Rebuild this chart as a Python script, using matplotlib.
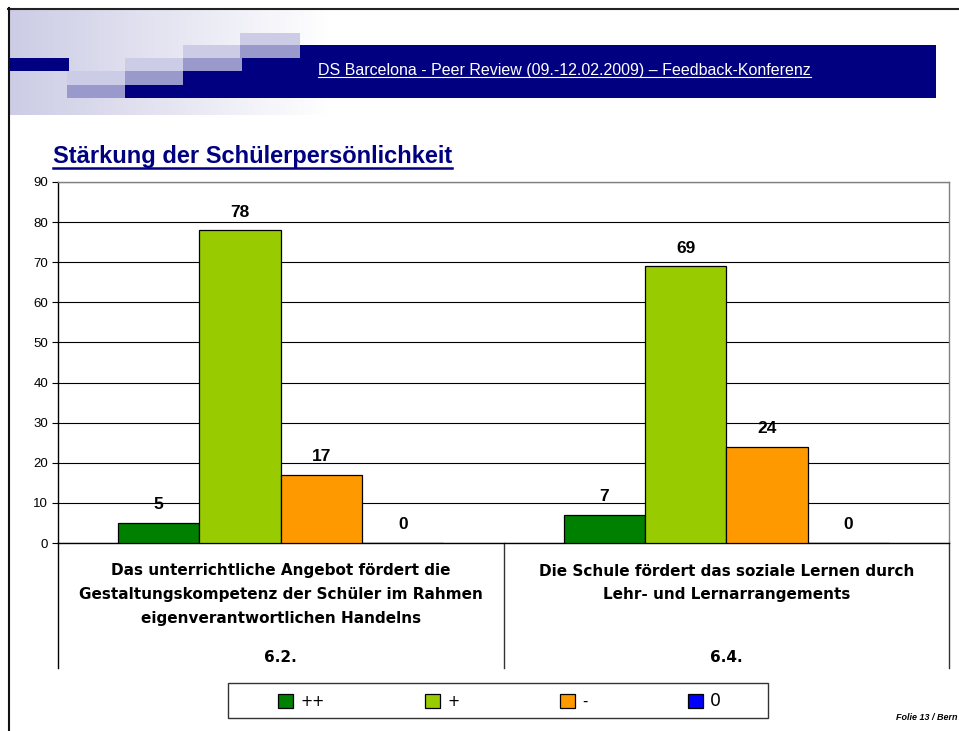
import matplotlib
matplotlib.use("Agg")
import matplotlib.pyplot as plt
import numpy as np
from matplotlib.patches import Rectangle

# ---------------- data ----------------
categories = [
    "Das unterrichtliche Angebot fördert die\nGestaltungskompetenz der Schüler im Rahmen\neigenverantwortlichen Handelns",
    "Die Schule fördert das soziale Lernen durch\nLehr- und Lernarrangements",
]
codes = ["6.2.", "6.4."]
series_names = ["++", "+", "-", "0"]
values_pp = [5, 7]
values_p = [78, 69]
values_m = [17, 24]
values_0 = [0, 0]
series_values = [values_pp, values_p, values_m, values_0]
colors = ["#008000", "#99CC00", "#FF9900", "#0000FF"]
yticks = [0, 10, 20, 30, 40, 50, 60, 70, 80, 90]
header_text = "DS Barcelona - Peer Review (09.-12.02.2009) \u2013 Feedback-Konferenz"
title_text = "Stärkung der Schülerpersönlichkeit"
footer_text = "Folie 13 / Bern"

plt.rcParams["font.family"] = ["Liberation Sans", "DejaVu Sans"]

W, H = 959, 731
fig = plt.figure(figsize=(W / 100, H / 100), dpi=100)
bg = fig.add_axes([0, 0, 1, 1])
bg.axis("off")

# header gradient
grad = np.linspace(0, 1, 256)
c0 = np.array([0.80, 0.80, 0.90])
c1 = np.array([1.0, 1.0, 1.0])
img = c0[None, None, :] * (1 - grad[None, :, None]) + c1[None, None, :] * grad[None, :, None]
bg.imshow(img, extent=(10, 330, 115, 10), aspect="auto", interpolation="bilinear", zorder=0)
bg.set_xlim(0, W)
bg.set_ylim(H, 0)

navy = "#000080"
light = "#CCCCE6"
med = "#9999CC"
rects = [
    (300, 45, 936, 98, navy), (242, 58, 300, 98, navy), (183, 71, 242, 98, navy),
    (125, 85, 183, 98, navy), (10, 58, 69, 71, navy),
    (240, 33, 300, 45, light), (183, 45, 240, 58, light), (125, 58, 183, 71, light), (67, 71, 125, 85, light),
    (240, 45, 300, 58, med), (183, 58, 242, 71, med), (125, 71, 183, 85, med), (67, 85, 125, 98, med),
]
for x0, y0, x1, y1, c in rects:
    bg.add_patch(Rectangle((x0, y0), x1 - x0, y1 - y0, facecolor=c, edgecolor="none", zorder=1))

# slide border
bg.plot([8, W], [8.5, 8.5], color="#222222", lw=1.5, zorder=2)
bg.plot([9, 9], [8, H], color="#111111", lw=1.5, zorder=2)

ht = bg.text(318, 70, header_text, color="white", fontsize=11.5,
             ha="left", va="center", zorder=3)
tt = bg.text(53, 157, title_text, color=navy, fontsize=17, fontweight="bold", ha="left", va="center", zorder=3)
bg.text(957, 718, footer_text, ha="right", va="center", fontsize=6.5, fontweight="bold", style="italic")

# legend frame
bg.add_patch(Rectangle((228, 683), 540, 35, facecolor="white", edgecolor="#333333", lw=1.0, zorder=1))

# ---------------- main chart ----------------
ax_l, ax_r, ax_t, ax_b = 58, 949, 182, 543
ax = fig.add_axes([ax_l / W, (H - ax_b) / H, (ax_r - ax_l) / W, (ax_b - ax_t) / H])
ax.set_facecolor("none")
x = np.arange(len(categories))
bw = 0.1825
containers = []
for i, (vals, c) in enumerate(zip(series_values, colors)):
    cont = ax.bar(x + (i - 1.5) * bw, vals, bw, color=c, edgecolor="black", linewidth=0.9, zorder=3)
    containers.append(cont)
    for xi, v in zip(x + (i - 1.5) * bw, vals):
        ax.annotate(f"{v:.0f}", (xi, v), xytext=(0, 13), textcoords="offset points",
                    ha="center", va="center", fontsize=12.5, fontweight="bold", zorder=4)

ax.set_xlim(-0.5, 1.5)
ax.set_ylim(0, 90)
ax.set_yticks(yticks)
ax.yaxis.grid(True, color="black", lw=0.8)
ax.set_axisbelow(True)
ax.tick_params(axis="y", length=4, width=0.8, labelsize=9.5, pad=3)
ax.tick_params(axis="x", length=0, labelbottom=False)
ax.spines["left"].set_color("black")
ax.spines["bottom"].set_color("black")
ax.spines["top"].set_color("#808080")
ax.spines["right"].set_color("#808080")
for s in ax.spines.values():
    s.set_linewidth(1.0)

ph = ax_b - ax_t
def ay(p):
    return (ax_b - p) / ph

xt = ax.get_xaxis_transform()
for xs, col in [(-0.5, "black"), (0.5, "#333333"), (1.5, "#333333")]:
    ax.plot([xs, xs], [0, ay(668)], transform=xt, clip_on=False, color=col, lw=1.0)

line_y = [571, 595, 618]
for i, (cat, code) in enumerate(zip(categories, codes)):
    for ln, py in zip(cat.split("\n"), line_y):
        ax.text(i, ay(py), ln, transform=xt, ha="center", va="center", fontsize=11,
                fontweight="bold", family=["DejaVu Sans"])
    ax.text(i, ay(657), code, transform=xt, ha="center", va="center", fontsize=11,
            fontweight="bold", family=["DejaVu Sans"])

leg = fig.legend([c.patches[0] for c in containers], series_names, loc="center",
                 bbox_to_anchor=(499.5 / W, 1 - 701 / H), ncol=4, frameon=False,
                 prop={"family": "DejaVu Sans", "size": 10.5},
                 handlelength=1.03, handleheight=1.03, handletextpad=0.48, columnspacing=6.9)
leg.get_texts()[3].set_fontsize(12.5)

# underlines derived from text extents
fig.canvas.draw()
inv = bg.transData.inverted()
for t, dy, col, lw in [(ht, 6.5, "white", 0.8), (tt, 11, navy, 1.8)]:
    bb = t.get_window_extent()
    (x0, y0), (x1, y1) = inv.transform([[bb.x0, bb.y0], [bb.x1, bb.y1]])
    yc = (y0 + y1) / 2 + dy
    bg.plot([x0, x1], [yc, yc], color=col, lw=lw, zorder=3)

fig.savefig("out.png", dpi=100)
